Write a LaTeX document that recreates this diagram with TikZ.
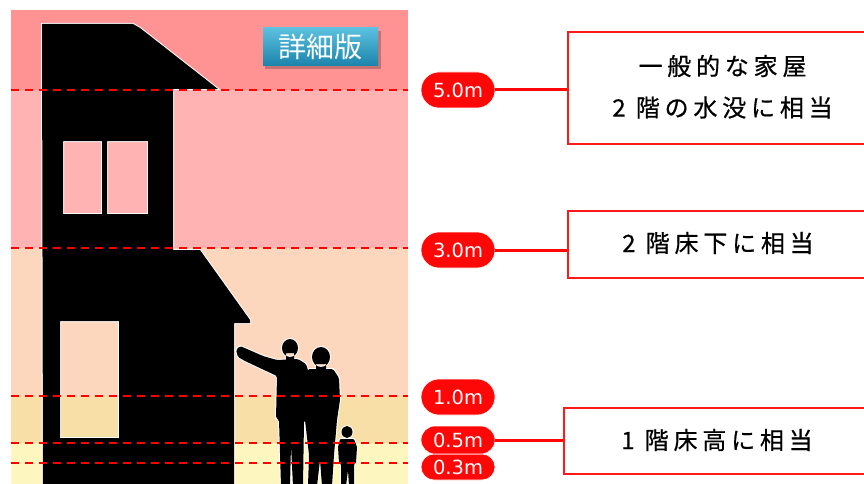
\documentclass[tikz,border=0pt]{standalone}
\usepackage{fontspec}
\usetikzlibrary{shapes.misc}
\newfontfamily\jpfont[LetterSpace=20,FakeBold=0.6]{Noto Sans CJK JP}
\newfontfamily\badgefont{Noto Sans CJK JP}
\newfontfamily\tagfont{DejaVu Sans}
\definecolor{bandA}{HTML}{FF9393}
\definecolor{bandB}{HTML}{FFB3B3}
\definecolor{bandC}{HTML}{FDD7BD}
\definecolor{bandD}{HTML}{F8DFA8}
\definecolor{bandE}{HTML}{FEF6BF}
\definecolor{lvlred}{HTML}{FF0000}
\definecolor{tagred}{HTML}{FF0707}
\definecolor{boxred}{HTML}{FF1A1A}
\definecolor{badgetop}{HTML}{5CC0DF}
\definecolor{badgebot}{HTML}{1B84AC}
\begin{document}
\begin{tikzpicture}[x=1pt,y=-1pt,
  dashline/.style={draw=lvlred, line width=2.5pt, dash pattern=on 8pt off 6pt},
  tag/.style={rounded rectangle, fill=tagred, draw=white, line width=0.6pt,
    text=white, minimum width=74pt, inner sep=0pt,
    font=\tagfont\fontsize{19.5}{20}\selectfont},
  conn/.style={draw=tagred, line width=3pt},
  notebox/.style={draw=boxred, line width=1.6pt, fill=white,
    minimum width=305pt, inner sep=0pt},
  notetext/.style={font=\jpfont\fontsize{24}{28}\selectfont, text=black, inner sep=0pt},
  halo/.style={draw=white, line width=2pt},
]
\clip (0,0) rectangle (864,484);
\fill[white] (0,0) rectangle (864,484);

% depth bands behind the house
\fill[bandA] (11,10) rectangle (408,90);
\fill[bandB] (11,90) rectangle (408,248);
\fill[bandC] (11,248) rectangle (408,396);
\fill[bandD] (11,396) rectangle (408,443);
\fill[bandE] (11,443) rectangle (408,486);

% badge
\fill[black, opacity=.22] (265,31) rectangle (381,69);
\shade[top color=badgetop, bottom color=badgebot] (263,28) rectangle (378,66);
\node[text=white, inner sep=0pt, font=\badgefont\fontsize{28}{30}\selectfont]
  (badge) at (320.5,47) {詳細版};

% house silhouette with window openings
\path[fill=black, even odd rule, preaction={halo}]
  (42,24) -- (133,24) -- (140,28) -- (218,89) -- (173,89) -- (173,250)
  -- (200,250) -- (250,320) -- (250,323) -- (234,323) -- (234,490)
  -- (43,490) -- cycle
  (63,141) rectangle (102,214)
  (107,141) rectangle (148,214)
  (60,321) rectangle (119,438);

% family silhouettes
\def\hsman{(236,350) -- (240,346) -- (247,349) -- (263,356) -- (277,360)
  -- (298,359) -- (306,364) -- (311,380) -- (309,418) -- (304,421)
  -- (303,486) -- (293,486) -- (291,445) -- (290,486) -- (281,486)
  -- (279,420) -- (276,418) -- (277,376) -- (262,369) -- (245,361)
  -- (238,357) -- cycle}
\def\hswoman{(308,369) -- (333,369) -- (339,378) -- (340,400) -- (337,420)
  -- (334,455) -- (332,486) -- (322,486) -- (320,460) -- (317,486)
  -- (308,486) -- (309,455) -- (305,420) -- (304,392) -- cycle}
\def\hschild{(340,439) -- (354,439) -- (357,447) -- (356,463) -- (354,464)
  -- (354,486) -- (349,486) -- (348,470) -- (346,486) -- (341,486)
  -- (341,464) -- (339,463) -- (338,447) -- cycle}
\draw[halo] \hsman \hswoman \hschild
  (290,348) ellipse (8 and 9) (321,357) ellipse (9 and 10)
  (347,432) ellipse (5.5 and 6);
\fill[black, rounded corners=1.5pt] \hsman;
\fill[black] (286,353) rectangle (294,362) (290,348) ellipse (8 and 9);
\fill[black, rounded corners=1.5pt] \hswoman;
\fill[black] (316,364) rectangle (326,372) (321,357) ellipse (9 and 10);
\fill[black, rounded corners=1pt] \hschild;
\fill[black] (347,432) ellipse (5.5 and 6);

% water level lines
\coordinate (l50) at (11,90);   \coordinate (r50) at (408,90);
\coordinate (l30) at (11,248);  \coordinate (r30) at (408,248);
\coordinate (l10) at (11,396);  \coordinate (r10) at (408,396);
\coordinate (l05) at (11,443);  \coordinate (r05) at (408,443);
\coordinate (l03) at (11,463);  \coordinate (r03) at (408,463);
\foreach \lv in {50,30,10,05,03} \draw[dashline] (l\lv) -- (r\lv);

% height tags
\node[tag, minimum height=36pt] (t50) at (458,90) {5.0m};
\node[tag, minimum height=36pt] (t30) at (458,250) {3.0m};
\node[tag, minimum height=36pt] (t10) at (458,397) {1.0m};
\node[tag, minimum height=26pt] (t03) at (458,467) {0.3m};
\node[tag, minimum height=28pt] (t05) at (458,440) {0.5m};

% explanation boxes
\node[notebox, minimum height=112pt] (b1) at (720.5,88) {};
\node[notebox, minimum height=67pt] (b2) at (720.5,244.5) {};
\node[notebox, minimum height=66pt] (b3) at (716.5,441) {};

\draw[conn] (t50.east) -- (t50.east -| b1.west);
\draw[conn] (t30.east) -- (t30.east -| b2.west);
\draw[conn] (t05.east) -- (t05.east -| b3.west);

\node[notetext] (n1a) at (722.5,66) {一般的な家屋};
\node[notetext] (n1b) at (722.5,107.5) {2 階の水没に相当};
\node[notetext] (n2) at (718,243) {2 階床下に相当};
\node[notetext] (n3) at (717,440) {1 階床高に相当};
\end{tikzpicture}
\end{document}
